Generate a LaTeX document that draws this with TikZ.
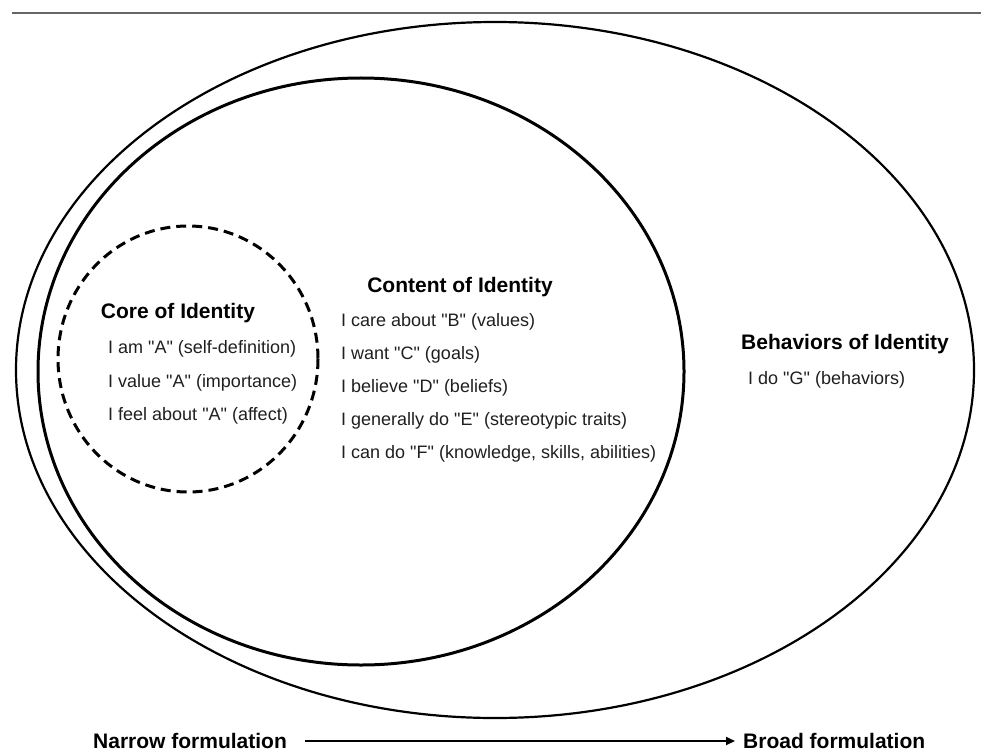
\documentclass[tikz,border=0pt]{standalone}
\usepackage{fontspec}
\newfontfamily\arial{Liberation Sans}
\usetikzlibrary{arrows.meta}
\tikzset{
  head/.style={font=\arial\bfseries\fontsize{21}{25}\selectfont, inner sep=0pt, text=black},
  itemtext/.style={font=\arial\fontsize{18}{22}\selectfont, inner sep=0pt, anchor=west, text=black!88},
  ring/.style={draw=black, line width=2.2pt},
  midring/.style={draw=black, line width=3pt},
  corering/.style={draw=black, line width=3pt, dash pattern=on 10pt off 6pt},
  flow/.style={draw=black, line width=2pt, -{Triangle[length=9pt,width=8pt]}},
}
\begin{document}
\begin{tikzpicture}[x=1pt,y=-1pt]
\useasboundingbox (0,0) rectangle (981,754);
% top rule
\draw[draw=black!60, line width=2pt] (12,13) -- (981,13);
% ellipses
\draw[ring] (495,370) ellipse [x radius=479, y radius=348];
\draw[midring] (361,371.5) ellipse [x radius=323, y radius=293.5];
\draw[corering] (188,359) ellipse [x radius=130, y radius=133];
% core
\node[head] (corehead) at (178,313) {Core of Identity};
\node[itemtext] (c1) at (108,349) {I am "A" (self-definition)};
\node[itemtext] (c2) at (108,383) {I value "A" (importance)};
\node[itemtext] (c3) at (108,416) {I feel about "A" (affect)};
% content
\node[head] (conthead) at (460,287) {Content of Identity};
\node[itemtext] (t1) at (341,322) {I care about "B" (values)};
\node[itemtext] (t2) at (341,355) {I want "C" (goals)};
\node[itemtext] (t3) at (341,388) {I believe "D" (beliefs)};
\node[itemtext] (t4) at (341,421) {I generally do "E" (stereotypic traits)};
\node[itemtext] (t5) at (341,454) {I can do "F" (knowledge, skills, abilities)};
% behaviors
\node[head, anchor=west] (behhead) at (741,344) {Behaviors of Identity};
\node[itemtext] (b1) at (748,380) {I do "G" (behaviors)};
% bottom axis
\node[head, anchor=west] (narrow) at (93,741) {Narrow formulation};
\node[head, anchor=west] (broad) at (743,741) {Broad formulation};
\coordinate (as) at (305,741);
\coordinate (ae) at (735,741);
\draw[flow] (as) -- (ae);
\end{tikzpicture}
\end{document}
